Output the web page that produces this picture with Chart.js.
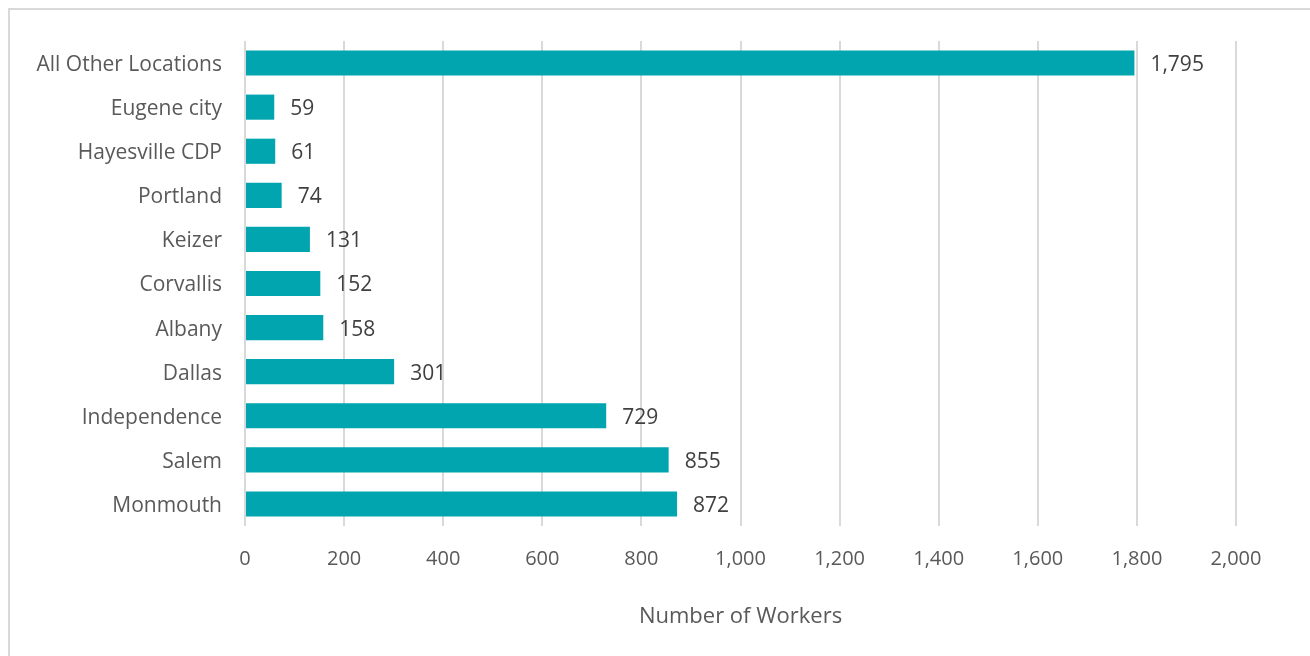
<!DOCTYPE html>
<html>
<head>
<meta charset="utf-8">
<script src="https://cdn.jsdelivr.net/npm/chart.js@4"></script>
<style>
  html, body { margin: 0; padding: 0; background: #fff; overflow: hidden; }
  #frame {
    position: absolute; left: 8px; top: 8px; width: 1400px; height: 700px;
    border-left: 2px solid #d9d9d9; border-top: 2px solid #d9d9d9;
  }
  #wrap { position: absolute; left: 0; top: 0; width: 1310px; height: 656px; }
</style>
</head>
<body>
<div id="frame"></div>
<div id="wrap"><canvas id="workersChart"></canvas></div>
<script>
const locations = [
  'All Other Locations', 'Eugene city', 'Hayesville CDP', 'Portland', 'Keizer',
  'Corvallis', 'Albany', 'Dallas', 'Independence', 'Salem', 'Monmouth'
];
const workers = [1795, 59, 61, 74, 131, 152, 158, 301, 729, 855, 872];
const xTicks = [0, 200, 400, 600, 800, 1000, 1200, 1400, 1600, 1800, 2000];

const FONT = "'Open Sans', 'Noto Sans', sans-serif";

// writes the count just past the end of each bar
const valueLabels = {
  id: 'valueLabels',
  afterDatasetsDraw(chart) {
    const ctx = chart.ctx;
    const meta = chart.getDatasetMeta(0);
    ctx.save();
    ctx.font = '21px ' + FONT;
    ctx.fillStyle = '#404040';
    ctx.textAlign = 'left';
    ctx.textBaseline = 'middle';
    meta.data.forEach((bar, i) => {
      ctx.fillText(workers[i].toLocaleString('en-US'), bar.x + 16, bar.y + 2);
    });
    ctx.restore();
  }
};

new Chart(document.getElementById('workersChart'), {
  type: 'bar',
  data: {
    labels: locations,
    datasets: [{
      data: workers,
      backgroundColor: '#00a5b0',
      borderWidth: 0,
      categoryPercentage: 1,
      barPercentage: 0.57
    }]
  },
  options: {
    indexAxis: 'y',
    responsive: true,
    maintainAspectRatio: false,
    animation: false,
    layout: { padding: { top: 41, right: 74, left: 0, bottom: 0 } },
    plugins: { legend: { display: false }, tooltip: { enabled: false } },
    scales: {
      x: {
        min: 0,
        max: 2000,
        afterBuildTicks(scale) { scale.ticks = xTicks.map(v => ({ value: v })); },
        afterFit(scale) { scale.height = 130; },
        grid: { color: '#d9d9d9', lineWidth: 2, drawTicks: false },
        border: { display: false },
        ticks: {
          padding: 21,
          color: '#595959',
          font: { family: FONT, size: 20 },
          callback: v => v.toLocaleString('en-US')
        },
        title: {
          display: true,
          text: 'Number of Workers',
          color: '#595959',
          font: { family: FONT, size: 22 },
          padding: { top: 0, bottom: 26 }
        }
      },
      y: {
        afterFit(scale) { scale.width = 245; },
        grid: { display: false, drawTicks: false },
        border: { display: false },
        ticks: {
          padding: 23,
          labelOffset: 2,
          color: '#595959',
          font: { family: FONT, size: 21 }
        }
      }
    }
  },
  plugins: [valueLabels]
});
</script>
</body>
</html>
